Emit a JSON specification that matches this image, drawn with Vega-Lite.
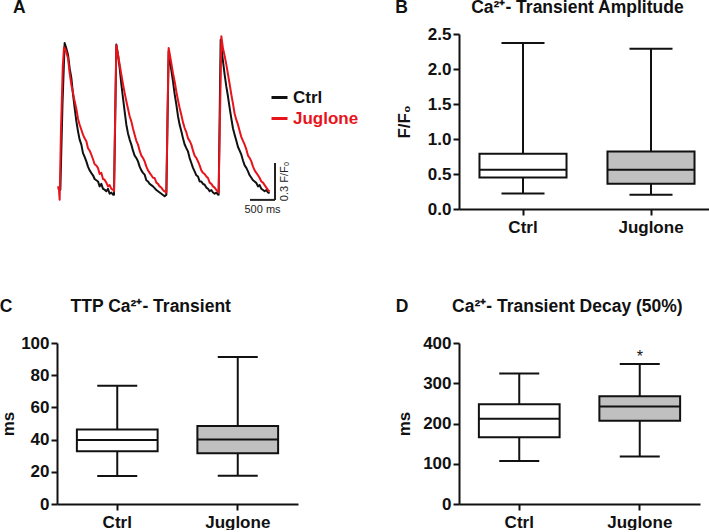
{
  "$schema": "https://vega.github.io/schema/vega-lite/v6.json",
  "background": "white",
  "padding": {"left": -1, "top": -2, "right": 0, "bottom": 0},
  "config": {
    "font": "Liberation Sans",
    "view": {"stroke": null},
    "axis": {"domainColor": "#111111", "domainWidth": 2, "tickColor": "#111111", "tickWidth": 2, "tickSize": 6, "labelFont": "Liberation Sans", "labelFontWeight": "bold", "labelFontSize": 17, "labelColor": "#111111", "labelOverlap": false, "labelFlush": false, "titleFont": "Liberation Sans", "titleFontWeight": "bold", "titleFontSize": 17, "titleColor": "#111111", "grid": false, "labelPadding": 2},
    "title": {"font": "Liberation Sans", "fontSize": 17.5, "fontWeight": "bold", "color": "#111111", "anchor": "start", "frame": "bounds"}
  },
  "datasets": {
    "trace": [
      {"s":"Ctrl","t":0,"f":1.016},{"s":"Ctrl","t":47,"f":1.003},{"s":"Ctrl","t":90,"f":1.7},{"s":"Ctrl","t":133,"f":2.195},{"s":"Ctrl","t":160,"f":2.16},{"s":"Ctrl","t":200,"f":2.10},{"s":"Ctrl","t":233,"f":1.99},{"s":"Ctrl","t":267,"f":1.911},{"s":"Ctrl","t":300,"f":1.78},{"s":"Ctrl","t":333,"f":1.667},{"s":"Ctrl","t":367,"f":1.56},{"s":"Ctrl","t":400,"f":1.477},{"s":"Ctrl","t":433,"f":1.41},{"s":"Ctrl","t":467,"f":1.369},{"s":"Ctrl","t":500,"f":1.30},{"s":"Ctrl","t":533,"f":1.27},{"s":"Ctrl","t":567,"f":1.233},{"s":"Ctrl","t":600,"f":1.19},{"s":"Ctrl","t":633,"f":1.16},{"s":"Ctrl","t":667,"f":1.138},{"s":"Ctrl","t":700,"f":1.12},{"s":"Ctrl","t":733,"f":1.09},{"s":"Ctrl","t":767,"f":1.08},{"s":"Ctrl","t":800,"f":1.07},{"s":"Ctrl","t":833,"f":1.03},{"s":"Ctrl","t":867,"f":1.05},{"s":"Ctrl","t":900,"f":1.01},{"s":"Ctrl","t":933,"f":1.003},{"s":"Ctrl","t":967,"f":0.99},{"s":"Ctrl","t":1000,"f":1.01},{"s":"Ctrl","t":1033,"f":0.97},{"s":"Ctrl","t":1067,"f":0.98},{"s":"Ctrl","t":1100,"f":0.962},
      {"s":"Ctrl","t":1120,"f":0.962},{"s":"Ctrl","t":1145,"f":1.6},{"s":"Ctrl","t":1167,"f":2.182},{"s":"Ctrl","t":1200,"f":2.10},{"s":"Ctrl","t":1233,"f":1.992},{"s":"Ctrl","t":1267,"f":1.86},{"s":"Ctrl","t":1300,"f":1.748},{"s":"Ctrl","t":1333,"f":1.64},{"s":"Ctrl","t":1367,"f":1.531},{"s":"Ctrl","t":1400,"f":1.46},{"s":"Ctrl","t":1433,"f":1.41},{"s":"Ctrl","t":1467,"f":1.369},{"s":"Ctrl","t":1500,"f":1.32},{"s":"Ctrl","t":1533,"f":1.28},{"s":"Ctrl","t":1567,"f":1.26},{"s":"Ctrl","t":1600,"f":1.233},{"s":"Ctrl","t":1633,"f":1.19},{"s":"Ctrl","t":1667,"f":1.16},{"s":"Ctrl","t":1700,"f":1.14},{"s":"Ctrl","t":1733,"f":1.125},{"s":"Ctrl","t":1767,"f":1.08},{"s":"Ctrl","t":1800,"f":1.07},{"s":"Ctrl","t":1833,"f":1.05},{"s":"Ctrl","t":1867,"f":1.04},{"s":"Ctrl","t":1900,"f":1.03},{"s":"Ctrl","t":1933,"f":1.016},{"s":"Ctrl","t":1967,"f":1.0},{"s":"Ctrl","t":2000,"f":0.99},{"s":"Ctrl","t":2033,"f":0.98},{"s":"Ctrl","t":2067,"f":0.97},{"s":"Ctrl","t":2100,"f":0.96},{"s":"Ctrl","t":2133,"f":0.949},
      {"s":"Ctrl","t":2167,"f":0.962},{"s":"Ctrl","t":2190,"f":1.55},{"s":"Ctrl","t":2213,"f":2.127},{"s":"Ctrl","t":2250,"f":2.02},{"s":"Ctrl","t":2300,"f":1.883},{"s":"Ctrl","t":2333,"f":1.78},{"s":"Ctrl","t":2367,"f":1.694},{"s":"Ctrl","t":2400,"f":1.6},{"s":"Ctrl","t":2433,"f":1.53},{"s":"Ctrl","t":2467,"f":1.477},{"s":"Ctrl","t":2500,"f":1.42},{"s":"Ctrl","t":2533,"f":1.37},{"s":"Ctrl","t":2567,"f":1.34},{"s":"Ctrl","t":2600,"f":1.314},{"s":"Ctrl","t":2633,"f":1.26},{"s":"Ctrl","t":2667,"f":1.22},{"s":"Ctrl","t":2700,"f":1.18},{"s":"Ctrl","t":2733,"f":1.152},{"s":"Ctrl","t":2767,"f":1.12},{"s":"Ctrl","t":2800,"f":1.11},{"s":"Ctrl","t":2833,"f":1.07},{"s":"Ctrl","t":2867,"f":1.07},{"s":"Ctrl","t":2900,"f":1.05},{"s":"Ctrl","t":2933,"f":1.043},{"s":"Ctrl","t":2967,"f":1.02},{"s":"Ctrl","t":3000,"f":1.01},{"s":"Ctrl","t":3033,"f":0.99},{"s":"Ctrl","t":3067,"f":1.0},{"s":"Ctrl","t":3100,"f":0.98},{"s":"Ctrl","t":3133,"f":0.97},{"s":"Ctrl","t":3167,"f":0.98},{"s":"Ctrl","t":3200,"f":0.962},
      {"s":"Ctrl","t":3213,"f":0.962},{"s":"Ctrl","t":3233,"f":1.6},{"s":"Ctrl","t":3253,"f":2.222},{"s":"Ctrl","t":3290,"f":2.08},{"s":"Ctrl","t":3333,"f":1.938},{"s":"Ctrl","t":3367,"f":1.84},{"s":"Ctrl","t":3400,"f":1.76},{"s":"Ctrl","t":3433,"f":1.667},{"s":"Ctrl","t":3467,"f":1.58},{"s":"Ctrl","t":3500,"f":1.50},{"s":"Ctrl","t":3533,"f":1.45},{"s":"Ctrl","t":3567,"f":1.40},{"s":"Ctrl","t":3600,"f":1.35},{"s":"Ctrl","t":3633,"f":1.32},{"s":"Ctrl","t":3667,"f":1.287},{"s":"Ctrl","t":3700,"f":1.24},{"s":"Ctrl","t":3733,"f":1.20},{"s":"Ctrl","t":3767,"f":1.18},{"s":"Ctrl","t":3800,"f":1.152},{"s":"Ctrl","t":3833,"f":1.12},{"s":"Ctrl","t":3867,"f":1.10},{"s":"Ctrl","t":3900,"f":1.08},{"s":"Ctrl","t":3933,"f":1.07},{"s":"Ctrl","t":3967,"f":1.057},{"s":"Ctrl","t":4000,"f":1.03},{"s":"Ctrl","t":4033,"f":1.04},{"s":"Ctrl","t":4067,"f":1.01},{"s":"Ctrl","t":4100,"f":1.0},{"s":"Ctrl","t":4133,"f":0.99},{"s":"Ctrl","t":4167,"f":1.0},{"s":"Ctrl","t":4200,"f":0.98},{"s":"Ctrl","t":4233,"f":0.976},
      {"s":"Juglone","t":0,"f":1.03},{"s":"Juglone","t":20,"f":1.0},{"s":"Juglone","t":33,"f":0.921},{"s":"Juglone","t":60,"f":1.5},{"s":"Juglone","t":95,"f":2.0},{"s":"Juglone","t":120,"f":2.16},{"s":"Juglone","t":150,"f":2.14},{"s":"Juglone","t":200,"f":2.073},{"s":"Juglone","t":233,"f":1.95},{"s":"Juglone","t":267,"f":1.856},{"s":"Juglone","t":300,"f":1.79},{"s":"Juglone","t":333,"f":1.721},{"s":"Juglone","t":367,"f":1.66},{"s":"Juglone","t":400,"f":1.58},{"s":"Juglone","t":433,"f":1.531},{"s":"Juglone","t":467,"f":1.49},{"s":"Juglone","t":500,"f":1.45},{"s":"Juglone","t":533,"f":1.42},{"s":"Juglone","t":567,"f":1.396},{"s":"Juglone","t":600,"f":1.34},{"s":"Juglone","t":633,"f":1.32},{"s":"Juglone","t":667,"f":1.287},{"s":"Juglone","t":700,"f":1.25},{"s":"Juglone","t":733,"f":1.21},{"s":"Juglone","t":767,"f":1.20},{"s":"Juglone","t":800,"f":1.179},{"s":"Juglone","t":833,"f":1.13},{"s":"Juglone","t":867,"f":1.14},{"s":"Juglone","t":900,"f":1.09},{"s":"Juglone","t":933,"f":1.084},{"s":"Juglone","t":967,"f":1.06},{"s":"Juglone","t":1000,"f":1.03},{"s":"Juglone","t":1033,"f":1.04},{"s":"Juglone","t":1067,"f":1.01},{"s":"Juglone","t":1100,"f":1.003},
      {"s":"Juglone","t":1120,"f":0.99},{"s":"Juglone","t":1143,"f":1.6},{"s":"Juglone","t":1167,"f":2.176},{"s":"Juglone","t":1200,"f":2.10},{"s":"Juglone","t":1233,"f":2.02},{"s":"Juglone","t":1267,"f":1.938},{"s":"Juglone","t":1300,"f":1.86},{"s":"Juglone","t":1333,"f":1.79},{"s":"Juglone","t":1367,"f":1.721},{"s":"Juglone","t":1400,"f":1.66},{"s":"Juglone","t":1433,"f":1.6},{"s":"Juglone","t":1467,"f":1.558},{"s":"Juglone","t":1500,"f":1.50},{"s":"Juglone","t":1533,"f":1.45},{"s":"Juglone","t":1567,"f":1.40},{"s":"Juglone","t":1600,"f":1.369},{"s":"Juglone","t":1633,"f":1.32},{"s":"Juglone","t":1667,"f":1.28},{"s":"Juglone","t":1700,"f":1.26},{"s":"Juglone","t":1733,"f":1.233},{"s":"Juglone","t":1767,"f":1.19},{"s":"Juglone","t":1800,"f":1.16},{"s":"Juglone","t":1833,"f":1.14},{"s":"Juglone","t":1867,"f":1.12},{"s":"Juglone","t":1900,"f":1.10},{"s":"Juglone","t":1933,"f":1.098},{"s":"Juglone","t":1967,"f":1.06},{"s":"Juglone","t":2000,"f":1.05},{"s":"Juglone","t":2033,"f":1.03},{"s":"Juglone","t":2067,"f":1.02},{"s":"Juglone","t":2100,"f":1.0},{"s":"Juglone","t":2133,"f":0.989},
      {"s":"Juglone","t":2167,"f":0.98},{"s":"Juglone","t":2190,"f":1.6},{"s":"Juglone","t":2213,"f":2.154},{"s":"Juglone","t":2250,"f":2.07},{"s":"Juglone","t":2300,"f":1.95},{"s":"Juglone","t":2333,"f":1.883},{"s":"Juglone","t":2367,"f":1.80},{"s":"Juglone","t":2400,"f":1.73},{"s":"Juglone","t":2433,"f":1.667},{"s":"Juglone","t":2467,"f":1.61},{"s":"Juglone","t":2500,"f":1.55},{"s":"Juglone","t":2533,"f":1.504},{"s":"Juglone","t":2567,"f":1.47},{"s":"Juglone","t":2600,"f":1.42},{"s":"Juglone","t":2633,"f":1.40},{"s":"Juglone","t":2667,"f":1.369},{"s":"Juglone","t":2700,"f":1.32},{"s":"Juglone","t":2733,"f":1.28},{"s":"Juglone","t":2767,"f":1.26},{"s":"Juglone","t":2800,"f":1.233},{"s":"Juglone","t":2833,"f":1.20},{"s":"Juglone","t":2867,"f":1.16},{"s":"Juglone","t":2900,"f":1.14},{"s":"Juglone","t":2933,"f":1.13},{"s":"Juglone","t":2967,"f":1.11},{"s":"Juglone","t":3000,"f":1.098},{"s":"Juglone","t":3033,"f":1.06},{"s":"Juglone","t":3067,"f":1.05},{"s":"Juglone","t":3100,"f":1.03},{"s":"Juglone","t":3133,"f":1.02},{"s":"Juglone","t":3167,"f":1.0},{"s":"Juglone","t":3200,"f":0.989},
      {"s":"Juglone","t":3213,"f":0.98},{"s":"Juglone","t":3240,"f":1.6},{"s":"Juglone","t":3267,"f":2.249},{"s":"Juglone","t":3300,"f":2.15},{"s":"Juglone","t":3333,"f":2.09},{"s":"Juglone","t":3367,"f":2.019},{"s":"Juglone","t":3400,"f":1.94},{"s":"Juglone","t":3433,"f":1.86},{"s":"Juglone","t":3467,"f":1.775},{"s":"Juglone","t":3500,"f":1.70},{"s":"Juglone","t":3533,"f":1.62},{"s":"Juglone","t":3567,"f":1.57},{"s":"Juglone","t":3600,"f":1.531},{"s":"Juglone","t":3633,"f":1.48},{"s":"Juglone","t":3667,"f":1.43},{"s":"Juglone","t":3700,"f":1.40},{"s":"Juglone","t":3733,"f":1.369},{"s":"Juglone","t":3767,"f":1.33},{"s":"Juglone","t":3800,"f":1.28},{"s":"Juglone","t":3833,"f":1.26},{"s":"Juglone","t":3867,"f":1.233},{"s":"Juglone","t":3900,"f":1.19},{"s":"Juglone","t":3933,"f":1.16},{"s":"Juglone","t":3967,"f":1.14},{"s":"Juglone","t":4000,"f":1.12},{"s":"Juglone","t":4033,"f":1.098},{"s":"Juglone","t":4067,"f":1.07},{"s":"Juglone","t":4100,"f":1.06},{"s":"Juglone","t":4133,"f":1.04},{"s":"Juglone","t":4167,"f":1.02},{"s":"Juglone","t":4200,"f":1.0},{"s":"Juglone","t":4233,"f":0.989}
    ],
    "amp": [
      {"group":"Ctrl","min":0.22,"q1":0.45,"median":0.56,"q3":0.79,"max":2.37},
      {"group":"Juglone","min":0.205,"q1":0.36,"median":0.56,"q3":0.82,"max":2.29}
    ],
    "ttp": [
      {"group":"Ctrl","min":17.4,"q1":32.7,"median":39.8,"q3":46.2,"max":73.5},
      {"group":"Juglone","min":17.6,"q1":31.5,"median":40,"q3":48.4,"max":91.3}
    ],
    "decay": [
      {"group":"Ctrl","min":107,"q1":166,"median":212,"q3":248,"max":324,"sig":""},
      {"group":"Juglone","min":118,"q1":207,"median":242,"q3":268,"max":348,"sig":"*"}
    ]
  },
  "bounds": "flush",
  "align": "all",
  "columns": 2,
  "spacing": {"row": 134, "column": 96},
  "concat": [
    {
      "width": 306,
      "height": 175,
      "title": {"text": "A", "frame": "group", "dx": -44, "offset": 18},
      "layer": [
        {
          "data": {"name": "trace"},
          "mark": {"type": "line", "strokeWidth": 2, "strokeJoin": "round"},
          "encoding": {
            "x": {"field": "t", "type": "quantitative", "scale": {"domain": [-20, 6100], "nice": false, "zero": false}, "axis": null},
            "y": {"field": "f", "type": "quantitative", "scale": {"domain": [0.846, 2.268], "nice": false, "zero": false}, "axis": null},
            "color": {
              "field": "s", "type": "nominal",
              "scale": {"domain": ["Ctrl", "Juglone"], "range": ["#111111", "#e8141c"]},
              "legend": {
                "title": null, "orient": "none", "legendX": 213, "legendY": 54,
                "symbolType": "stroke", "symbolSize": 256, "symbolStrokeWidth": 3,
                "labelFont": "Liberation Sans", "labelFontSize": 17, "labelFontWeight": "bold", "labelOffset": 4, "rowPadding": 3,
                "encode": {"labels": {"update": {"fill": {"signal": "datum.value === 'Juglone' ? '#e8141c' : '#111111'"}}}}
              }
            }
          }
        },
        {
          "data": {"values": [{"x": 3840, "x2": 4340, "y": 0.92, "y2": 0.92}, {"x": 4340, "x2": 4340, "y": 0.92, "y2": 1.22}]},
          "mark": {"type": "rule", "strokeWidth": 2, "color": "#222222"},
          "encoding": {
            "x": {"field": "x", "type": "quantitative", "axis": null},
            "x2": {"field": "x2"},
            "y": {"field": "y", "type": "quantitative", "axis": null},
            "y2": {"field": "y2"}
          }
        },
        {
          "data": {"values": [{"label": "500 ms", "x": 4090, "y": 0.92}]},
          "mark": {"type": "text", "align": "center", "baseline": "top", "dy": 4, "fontSize": 11, "color": "#222222"},
          "encoding": {
            "x": {"field": "x", "type": "quantitative", "axis": null},
            "y": {"field": "y", "type": "quantitative", "axis": null},
            "text": {"field": "label"}
          }
        },
        {
          "data": {"values": [{"label": "0.3 F/F₀", "x": 4340, "y": 1.07}]},
          "mark": {"type": "text", "align": "center", "baseline": "top", "angle": 270, "dy": 4, "fontSize": 11, "color": "#222222"},
          "encoding": {
            "x": {"field": "x", "type": "quantitative", "axis": null},
            "y": {"field": "y", "type": "quantitative", "axis": null},
            "text": {"field": "label"}
          }
        }
      ]
    },
    {
      "width": 256,
      "height": 175,
      "title": {"text": "B\u00a0\u00a0\u00a0\u00a0\u00a0\u00a0\u00a0\u00a0\u00a0\u00a0\u00a0\u00a0\u00a0Ca²⁺- Transient Amplitude", "offset": 9},
      "data": {"name": "amp"},
      "encoding": {
        "x": {"field": "group", "type": "nominal", "sort": ["Ctrl", "Juglone"], "scale": {"paddingInner": 0, "paddingOuter": 0}, "axis": {"title": null, "labelAngle": 0, "labelPadding": 4, "bandPosition": 0.5}}
      },
      "layer": [
        {"mark": {"type": "rule", "strokeWidth": 2, "color": "#111111"},
         "encoding": {"y": {"field": "min", "type": "quantitative", "scale": {"domain": [0, 2.5], "nice": false}, "axis": {"title": "F/F₀", "values": [0, 0.5, 1, 1.5, 2, 2.5], "tickCount": 6, "format": ".1f", "titlePadding": 14, "labelOverlap": false}}, "y2": {"field": "max"}}},
        {"mark": {"type": "bar", "width": {"band": 0.68}, "stroke": "#111111", "strokeWidth": 2},
         "encoding": {"y": {"field": "q1", "type": "quantitative"}, "y2": {"field": "q3"}, "fill": {"field": "group", "type": "nominal", "scale": {"domain": ["Ctrl", "Juglone"], "range": ["#ffffff", "#c0c0c0"]}, "legend": null}}},
        {"mark": {"type": "tick", "size": 87, "thickness": 2, "color": "#111111", "opacity": 1},
         "encoding": {"y": {"field": "median", "type": "quantitative"}}},
        {"mark": {"type": "tick", "size": 43, "thickness": 2, "color": "#111111", "opacity": 1},
         "encoding": {"y": {"field": "min", "type": "quantitative"}}},
        {"mark": {"type": "tick", "size": 43, "thickness": 2, "color": "#111111", "opacity": 1},
         "encoding": {"y": {"field": "max", "type": "quantitative"}}}
      ]
    },
    {
      "width": 241,
      "height": 161,
      "title": {"text": "C\u00a0\u00a0\u00a0\u00a0\u00a0\u00a0\u00a0\u00a0\u00a0\u00a0\u00a0\u00a0TTP Ca²⁺- Transient", "offset": 19},
      "data": {"name": "ttp"},
      "encoding": {
        "x": {"field": "group", "type": "nominal", "sort": ["Ctrl", "Juglone"], "scale": {"paddingInner": 0, "paddingOuter": 0}, "axis": {"title": null, "labelAngle": 0, "labelPadding": 4, "bandPosition": 0.5}}
      },
      "layer": [
        {"mark": {"type": "rule", "strokeWidth": 2, "color": "#111111"},
         "encoding": {"y": {"field": "min", "type": "quantitative", "scale": {"domain": [0, 100], "nice": false}, "axis": {"title": "ms", "values": [0, 20, 40, 60, 80, 100], "tickCount": 6, "titlePadding": 3, "labelOverlap": false}}, "y2": {"field": "max"}}},
        {"mark": {"type": "bar", "width": {"band": 0.67}, "stroke": "#111111", "strokeWidth": 2},
         "encoding": {"y": {"field": "q1", "type": "quantitative"}, "y2": {"field": "q3"}, "fill": {"field": "group", "type": "nominal", "scale": {"domain": ["Ctrl", "Juglone"], "range": ["#ffffff", "#c0c0c0"]}, "legend": null}}},
        {"mark": {"type": "tick", "size": 81, "thickness": 2, "color": "#111111", "opacity": 1},
         "encoding": {"y": {"field": "median", "type": "quantitative"}}},
        {"mark": {"type": "tick", "size": 40, "thickness": 2, "color": "#111111", "opacity": 1},
         "encoding": {"y": {"field": "min", "type": "quantitative"}}},
        {"mark": {"type": "tick", "size": 40, "thickness": 2, "color": "#111111", "opacity": 1},
         "encoding": {"y": {"field": "max", "type": "quantitative"}}}
      ]
    },
    {
      "width": 241,
      "height": 161,
      "title": {"text": "D\u00a0\u00a0\u00a0\u00a0\u00a0\u00a0\u00a0\u00a0\u00a0Ca²⁺- Transient Decay (50%)", "offset": 19},
      "data": {"name": "decay"},
      "encoding": {
        "x": {"field": "group", "type": "nominal", "sort": ["Ctrl", "Juglone"], "scale": {"paddingInner": 0, "paddingOuter": 0}, "axis": {"title": null, "labelAngle": 0, "labelPadding": 4, "bandPosition": 0.5}}
      },
      "layer": [
        {"mark": {"type": "rule", "strokeWidth": 2, "color": "#111111"},
         "encoding": {"y": {"field": "min", "type": "quantitative", "scale": {"domain": [0, 400], "nice": false}, "axis": {"title": "ms", "values": [0, 100, 200, 300, 400], "tickCount": 5, "titlePadding": 9, "labelOverlap": false}}, "y2": {"field": "max"}}},
        {"mark": {"type": "bar", "width": {"band": 0.67}, "stroke": "#111111", "strokeWidth": 2},
         "encoding": {"y": {"field": "q1", "type": "quantitative"}, "y2": {"field": "q3"}, "fill": {"field": "group", "type": "nominal", "scale": {"domain": ["Ctrl", "Juglone"], "range": ["#ffffff", "#c0c0c0"]}, "legend": null}}},
        {"mark": {"type": "tick", "size": 81, "thickness": 2, "color": "#111111", "opacity": 1},
         "encoding": {"y": {"field": "median", "type": "quantitative"}}},
        {"mark": {"type": "tick", "size": 40, "thickness": 2, "color": "#111111", "opacity": 1},
         "encoding": {"y": {"field": "min", "type": "quantitative"}}},
        {"mark": {"type": "tick", "size": 40, "thickness": 2, "color": "#111111", "opacity": 1},
         "encoding": {"y": {"field": "max", "type": "quantitative"}}},
        {"mark": {"type": "text", "baseline": "alphabetic", "dy": -2, "fontSize": 16, "color": "#111111"},
         "encoding": {"y": {"field": "max", "type": "quantitative"}, "text": {"field": "sig"}}}
      ]
    }
  ]
}
